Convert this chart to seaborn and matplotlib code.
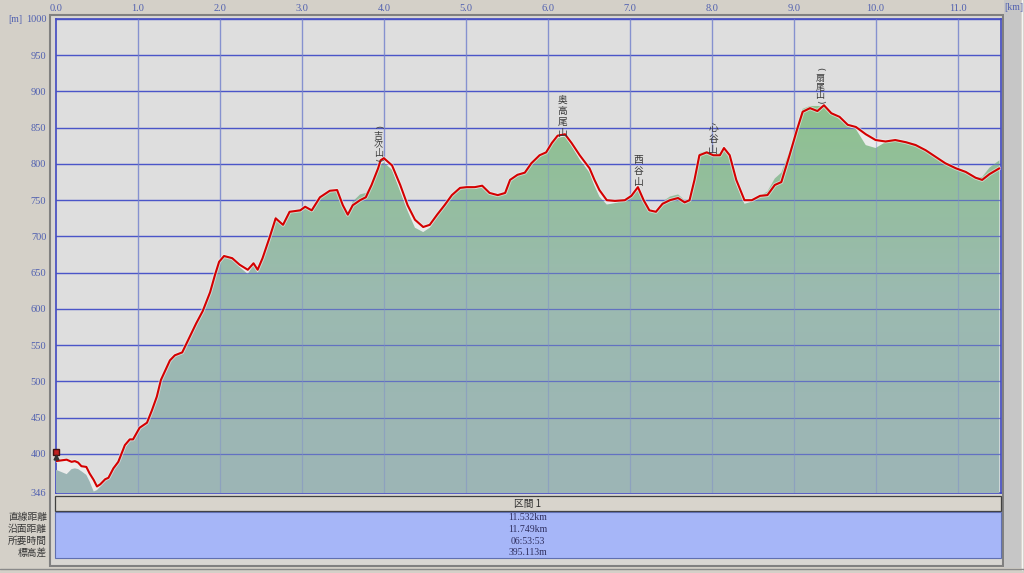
import numpy as np
import matplotlib
matplotlib.use("Agg")
import matplotlib.pyplot as plt
import seaborn as sns
import pandas as pd
from matplotlib.colors import LinearSegmentedColormap
from matplotlib.patches import Rectangle
from matplotlib.lines import Line2D
import matplotlib.patheffects as pe

# ---- data ----
track_km = [0.00, 0.13, 0.19, 0.23, 0.27, 0.31, 0.37, 0.41, 0.46, 0.50, 0.54, 0.60, 0.64, 0.70, 0.76,
            0.84, 0.90, 0.94, 1.02, 1.11, 1.17, 1.23, 1.28, 1.39, 1.45, 1.54, 1.63, 1.71, 1.79, 1.88,
            1.94, 1.99, 2.05, 2.15, 2.24, 2.34, 2.41, 2.46, 2.52, 2.61, 2.68, 2.77, 2.85, 2.98, 3.04,
            3.12, 3.22, 3.34, 3.43, 3.50, 3.56, 3.62, 3.71, 3.78, 3.85, 3.93, 3.96, 4.00, 4.10, 4.20,
            4.29, 4.38, 4.48, 4.56, 4.65, 4.74, 4.83, 4.93, 5.01, 5.11, 5.20, 5.29, 5.39, 5.48, 5.54,
            5.63, 5.72, 5.80, 5.90, 5.98, 6.05, 6.12, 6.21, 6.29, 6.39, 6.51, 6.57, 6.63, 6.72, 6.82,
            6.94, 7.02, 7.10, 7.17, 7.24, 7.32, 7.40, 7.49, 7.59, 7.67, 7.73, 7.79, 7.85, 7.94, 8.02,
            8.10, 8.15, 8.22, 8.30, 8.40, 8.49, 8.59, 8.68, 8.77, 8.85, 8.95, 9.04, 9.11, 9.20, 9.29,
            9.37, 9.46, 9.56, 9.66, 9.76, 9.88, 10.00, 10.12, 10.24, 10.37, 10.49, 10.61, 10.73, 10.85,
            10.98, 11.10, 11.22, 11.30, 11.39, 11.51]
track_m = [390, 392, 389, 390, 388, 383, 382, 373, 364, 355, 358, 365, 367, 380, 389,
           412, 420, 420, 436, 443, 460, 479, 502, 529, 536, 540, 561, 580, 597, 623,
           647, 665, 673, 670, 661, 654, 663, 654, 670, 700, 725, 716, 734, 736, 741,
           736, 754, 763, 764, 743, 730, 743, 750, 754, 771, 794, 805, 808, 798, 771,
           743, 723, 713, 716, 730, 743, 757, 767, 768, 768, 770, 760, 757, 760, 778,
           785, 788, 801, 812, 816, 829, 839, 841, 829, 812, 794, 778, 764, 750, 749,
           750, 756, 768, 750, 736, 734, 745, 750, 753, 747, 750, 778, 812, 816, 812,
           812, 822, 812, 778, 750, 750, 756, 757, 771, 775, 812, 847, 872, 877, 873,
           881, 870, 865, 854, 851, 841, 833, 831, 833, 830, 826, 819, 810, 801,
           794, 789, 781, 778, 786, 794]
terrain_m = [378, 372, 379, 380, 379, 376, 371, 362, 348, 350, 355, 364, 368, 378, 392,
             408, 418, 420, 434, 442, 458, 478, 500, 528, 535, 540, 560, 579, 596, 622,
             646, 664, 672, 669, 658, 648, 662, 650, 668, 699, 728, 714, 733, 738, 740,
             736, 753, 762, 762, 740, 728, 748, 758, 760, 772, 793, 800, 802, 792, 762,
             735, 712, 706, 712, 728, 742, 756, 766, 768, 766, 768, 758, 756, 760, 776,
             784, 787, 800, 810, 815, 828, 836, 838, 825, 806, 788, 770, 755, 744, 746,
             750, 756, 764, 748, 734, 733, 748, 755, 758, 750, 752, 780, 815, 818, 814,
             815, 820, 808, 772, 745, 748, 756, 762, 780, 788, 818, 850, 876, 880, 880,
             880, 870, 862, 852, 848, 826, 822, 830, 834, 831, 828, 818, 808, 800,
             795, 790, 782, 782, 795, 805]

peak_names = ["吉次山", "奥高尾山", "西谷山", "心谷山", "扇尾山"]
peak_km = [3.93, 6.18, 7.11, 8.02, 9.32]
peak_top = [852, 896, 813, 857, 932]
peak_paren = [True, False, False, False, True]

y_ticks = [346, 400, 450, 500, 550, 600, 650, 700, 750, 800, 850, 900, 950, 1000]
x_ticks = [0.0, 1.0, 2.0, 3.0, 4.0, 5.0, 6.0, 7.0, 8.0, 9.0, 10.0, 11.0]

section_title = "区間 1"
row_labels = ["直線距離", "沿面距離", "所要時間", "標高差"]
row_values = ["11.532km", "11.749km", "06:53:53", "395.113m"]

# ---- style ----
sns.set_theme(style="white")
plt.rcParams['font.family'] = ['Liberation Serif', 'Noto Sans CJK JP', 'DejaVu Sans']
cjk = ['Noto Sans CJK JP', 'DejaVu Sans']

W, H = 1024, 573
fig = plt.figure(figsize=(W / 100, H / 100), dpi=100)
fig.patch.set_facecolor('#d4d0c8')

def fx(px):
    return px / W

def fy(py):
    return 1 - py / H

# outer frame (behind the axes)
fig.add_artist(Rectangle((fx(50), fy(566)), fx(1003) - fx(50), fy(15) - fy(566),
                         transform=fig.transFigure, facecolor='#d8d6d2', edgecolor='#808080',
                         lw=1.5, zorder=-10))
fig.add_artist(Rectangle((fx(1004), fy(568)), fx(1021) - fx(1004), fy(0) - fy(568),
                         transform=fig.transFigure, facecolor='#c6c6c6', edgecolor='none', zorder=-10))
fig.add_artist(Line2D([fx(1022), fx(1022)], [fy(0), fy(570)], transform=fig.transFigure,
                      color='#f4f4f4', lw=1, zorder=-10))
fig.add_artist(Line2D([fx(0), fx(1024)], [fy(569), fy(569)], transform=fig.transFigure,
                      color='#8a8a8a', lw=1, zorder=-10))

ax = fig.add_axes([fx(56), fy(493), fx(1001) - fx(56), fy(19) - fy(493)])
ax.set_facecolor('#dedede')

# grid
for v in y_ticks[1:]:
    ax.axhline(v, color='#4a55c8', lw=0.9, zorder=1)
for v in x_ticks[1:]:
    ax.axvline(v, color='#8c94d8', lw=0.9, zorder=1)

# light area under the track
ax.fill_between(track_km, track_m, 346, color='#ebebeb', lw=0, zorder=2)

# terrain with vertical gradient
poly = ax.fill_between(track_km, terrain_m, 346, facecolor='none', lw=0, zorder=3)
cmap = LinearSegmentedColormap.from_list('hill', ['#9db5b6', '#9bbab0', '#8dc28c'])
grad = np.linspace(0, 1, 256).reshape(-1, 1)
im = ax.imshow(grad, cmap=cmap, origin='lower', aspect='auto',
               extent=[0, 11.53, 346, 900], zorder=3)
im.set_clip_path(poly.get_paths()[0], transform=ax.transData)

# grid over the fill (faint)
for v in y_ticks[1:]:
    ax.axhline(v, color='#4a55c8', lw=0.9, alpha=0.7, zorder=4)
for v in x_ticks[1:]:
    ax.axvline(v, color='#7f8fc8', lw=0.9, alpha=0.5, zorder=4)

# track line
df = pd.DataFrame({'km': track_km, 'm': track_m})
sns.lineplot(data=df, x='km', y='m', ax=ax, color='#d40000', lw=1.5, zorder=6, sort=False,
             path_effects=[pe.Stroke(linewidth=2.8, foreground='#f0f0f0', alpha=0.6), pe.Normal()])

# start marker
ax.plot([0.0], [403], marker='s', ms=4, color='#c02020', mec='#401010', zorder=7, clip_on=False)
ax.plot([0.0], [396], marker='^', ms=3.5, color='#303030', zorder=7, clip_on=False)

# peak labels: vertical text, one character at a time
def put(ch, xk, yt, dy_px, size, rot=0, fam=cjk):
    ax.annotate(ch, (xk, yt), xytext=(0, -dy_px * 0.72), textcoords='offset points',
                ha='center', va='top', fontsize=size, family=fam, rotation=rot,
                color='#383838', zorder=8, annotation_clip=False)

for name, xk, yt, par in zip(peak_names, peak_km, peak_top, peak_paren):
    if par:
        put("(", xk, yt, -1, 6.5, rot=-90, fam=['DejaVu Sans'])
        step, off, size = 8.3, 6, 6.5
    else:
        step, off, size = 11.2, 0, 7
    for i, ch in enumerate(name):
        put(ch, xk, yt, off + i * step, size)
    if par:
        put(")", xk, yt, off + len(name) * step + 0.5, 6.5, rot=-90, fam=['DejaVu Sans'])

ax.set_xlim(0, 11.53)
ax.set_ylim(346, 1000)
ax.set_xticks(x_ticks)
ax.set_xticklabels([f"{v:.1f}" for v in x_ticks])
ax.set_yticks(y_ticks)
ax.set_yticklabels([str(v) for v in y_ticks])
ax.xaxis.tick_top()
ax.tick_params(axis='both', length=0, labelsize=7.5, labelcolor='#5060b0')
ax.tick_params(axis='x', pad=4)
ax.tick_params(axis='y', pad=7)
ax.set_xlabel('')
ax.set_ylabel('')
for s in ax.spines.values():
    s.set_color('#4048c0')
    s.set_linewidth(1.2)

fig.text(fx(8), fy(19), "[m]", fontsize=7, color='#5060b0', ha='left', va='center')
fig.text(fx(1004), fy(8), "[km]", fontsize=7, color='#5060b0', ha='left', va='center')

# summary table
fig.add_artist(Rectangle((fx(55), fy(511)), fx(1001) - fx(55), fy(496) - fy(511),
                         transform=fig.transFigure, facecolor='#d8d4cc', edgecolor='#404040', lw=0.9))
fig.add_artist(Rectangle((fx(55), fy(558)), fx(1001) - fx(55), fy(512) - fy(558),
                         transform=fig.transFigure, facecolor='#a6b6f8', edgecolor='#6070b0', lw=0.8))
fig.text(fx(528), fy(504), section_title, fontsize=7, family=cjk, color='#303030',
         ha='center', va='center')
row_y = [517, 529, 541, 552.5]
for lab, val, yy in zip(row_labels, row_values, row_y):
    fig.text(fx(47), fy(yy), lab, fontsize=7, family=cjk, color='#383838', ha='right', va='center')
    fig.text(fx(528), fy(yy), val, fontsize=7, color='#303060', ha='center', va='center')

fig.savefig('out.png', dpi=100, facecolor=fig.get_facecolor())
